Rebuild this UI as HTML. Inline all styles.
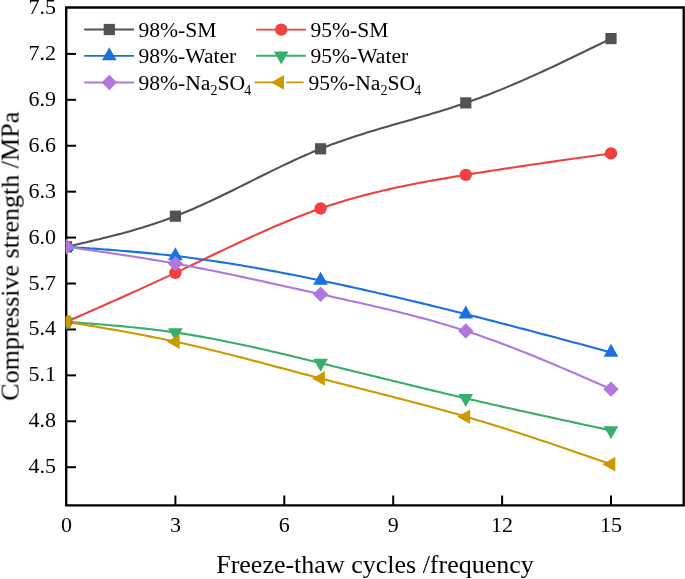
<!DOCTYPE html>
<html><head><meta charset="utf-8"><style>
html,body{margin:0;padding:0;background:#fff;}
svg{display:block;font-family:"Liberation Serif",serif;}
text{will-change:transform;}
</style></head><body>
<svg width="685" height="579" viewBox="0 0 685 579">
<defs><clipPath id="pc"><rect x="65.7" y="0" width="640" height="505"/></clipPath></defs>

<g stroke="#000" fill="none">
<path d="M66.2,7.5 H683.7 V505.4 H66.2 Z" stroke-width="2.35" stroke-linejoin="miter"/>
<path d="M66.2,467.20 H76" stroke-width="2"/>
<path d="M66.2,421.28 H76" stroke-width="2"/>
<path d="M66.2,375.36 H76" stroke-width="2"/>
<path d="M66.2,329.44 H76" stroke-width="2"/>
<path d="M66.2,283.52 H76" stroke-width="2"/>
<path d="M66.2,237.59 H76" stroke-width="2"/>
<path d="M66.2,191.67 H76" stroke-width="2"/>
<path d="M66.2,145.75 H76" stroke-width="2"/>
<path d="M66.2,99.83 H76" stroke-width="2"/>
<path d="M66.2,53.91 H76" stroke-width="2"/>
<path d="M175.40,505.5 V495.5" stroke-width="2"/>
<path d="M284.30,505.5 V495.5" stroke-width="2"/>
<path d="M393.20,505.5 V495.5" stroke-width="2"/>
<path d="M502.10,505.5 V495.5" stroke-width="2"/>
<path d="M611.00,505.5 V495.5" stroke-width="2"/>
</g>
<g clip-path="url(#pc)" fill="none" stroke-width="2.1" stroke-linejoin="round">
<path d="M66.50,246.78 L69.22,246.16 L71.94,245.54 L74.67,244.92 L77.39,244.29 L80.11,243.67 L82.84,243.04 L85.56,242.41 L88.28,241.77 L91.00,241.13 L93.72,240.49 L96.45,239.84 L99.17,239.18 L101.89,238.52 L104.62,237.85 L107.34,237.18 L110.06,236.49 L112.78,235.80 L115.50,235.09 L118.23,234.38 L120.95,233.66 L123.67,232.92 L126.39,232.18 L129.12,231.42 L131.84,230.65 L134.56,229.86 L137.28,229.07 L140.01,228.25 L142.73,227.43 L145.45,226.59 L148.18,225.73 L150.90,224.86 L153.62,223.97 L156.34,223.06 L159.06,222.13 L161.79,221.19 L164.51,220.22 L167.23,219.24 L169.95,218.24 L172.68,217.21 L175.40,216.17 L179.03,214.74 L182.66,213.27 L186.29,211.77 L189.92,210.24 L193.55,208.68 L197.18,207.08 L200.81,205.46 L204.44,203.81 L208.07,202.14 L211.70,200.45 L215.33,198.74 L218.96,197.01 L222.59,195.26 L226.22,193.50 L229.85,191.73 L233.48,189.94 L237.11,188.15 L240.74,186.35 L244.37,184.54 L248.00,182.73 L251.63,180.93 L255.26,179.12 L258.89,177.31 L262.52,175.51 L266.15,173.71 L269.78,171.93 L273.41,170.15 L277.04,168.38 L280.67,166.63 L284.30,164.90 L287.93,163.18 L291.56,161.48 L295.19,159.80 L298.82,158.15 L302.45,156.52 L306.08,154.92 L309.71,153.34 L313.34,151.80 L316.97,150.29 L320.60,148.81 L324.23,147.37 L327.86,145.97 L331.49,144.60 L335.12,143.26 L338.75,141.95 L342.38,140.67 L346.01,139.41 L349.64,138.18 L353.27,136.98 L356.90,135.80 L360.53,134.63 L364.16,133.49 L367.79,132.37 L371.42,131.26 L375.05,130.16 L378.68,129.08 L382.31,128.01 L385.94,126.95 L389.57,125.89 L393.20,124.85 L396.83,123.81 L400.46,122.77 L404.09,121.73 L407.72,120.70 L411.35,119.66 L414.98,118.62 L418.61,117.58 L422.24,116.53 L425.87,115.47 L429.50,114.40 L433.13,113.33 L436.76,112.24 L440.39,111.13 L444.02,110.01 L447.65,108.88 L451.28,107.73 L454.91,106.55 L458.54,105.36 L462.17,104.14 L465.80,102.89 L469.43,101.62 L473.06,100.33 L476.69,99.01 L480.32,97.66 L483.95,96.30 L487.58,94.91 L491.21,93.49 L494.84,92.06 L498.47,90.60 L502.10,89.12 L505.73,87.63 L509.36,86.11 L512.99,84.58 L516.62,83.03 L520.25,81.46 L523.88,79.87 L527.51,78.27 L531.14,76.66 L534.77,75.02 L538.40,73.38 L542.03,71.72 L545.66,70.05 L549.29,68.37 L552.92,66.68 L556.55,64.97 L560.18,63.26 L563.81,61.54 L567.44,59.81 L571.07,58.07 L574.70,56.32 L578.33,54.57 L581.96,52.81 L585.59,51.05 L589.22,49.28 L592.85,47.50 L596.48,45.73 L600.11,43.95 L603.74,42.17 L607.37,40.39 L611.00,38.60" stroke="#525252"/>
<path d="M66.50,321.78 L69.22,320.59 L71.94,319.39 L74.67,318.19 L77.39,316.99 L80.11,315.80 L82.84,314.60 L85.56,313.40 L88.28,312.20 L91.00,311.00 L93.72,309.80 L96.45,308.59 L99.17,307.39 L101.89,306.18 L104.62,304.98 L107.34,303.77 L110.06,302.56 L112.78,301.35 L115.50,300.14 L118.23,298.92 L120.95,297.71 L123.67,296.49 L126.39,295.27 L129.12,294.04 L131.84,292.82 L134.56,291.59 L137.28,290.36 L140.01,289.12 L142.73,287.89 L145.45,286.65 L148.18,285.41 L150.90,284.16 L153.62,282.91 L156.34,281.66 L159.06,280.41 L161.79,279.15 L164.51,277.89 L167.23,276.62 L169.95,275.35 L172.68,274.08 L175.40,272.80 L179.03,271.09 L182.66,269.38 L186.29,267.65 L189.92,265.93 L193.55,264.20 L197.18,262.47 L200.81,260.73 L204.44,259.00 L208.07,257.26 L211.70,255.53 L215.33,253.79 L218.96,252.06 L222.59,250.34 L226.22,248.62 L229.85,246.90 L233.48,245.19 L237.11,243.49 L240.74,241.80 L244.37,240.11 L248.00,238.44 L251.63,236.78 L255.26,235.13 L258.89,233.49 L262.52,231.86 L266.15,230.25 L269.78,228.66 L273.41,227.08 L277.04,225.52 L280.67,223.98 L284.30,222.46 L287.93,220.96 L291.56,219.48 L295.19,218.02 L298.82,216.59 L302.45,215.17 L306.08,213.79 L309.71,212.43 L313.34,211.09 L316.97,209.79 L320.60,208.51 L324.23,207.26 L327.86,206.04 L331.49,204.85 L335.12,203.69 L338.75,202.55 L342.38,201.44 L346.01,200.36 L349.64,199.30 L353.27,198.27 L356.90,197.25 L360.53,196.27 L364.16,195.30 L367.79,194.36 L371.42,193.44 L375.05,192.53 L378.68,191.65 L382.31,190.79 L385.94,189.95 L389.57,189.12 L393.20,188.31 L396.83,187.52 L400.46,186.75 L404.09,185.99 L407.72,185.24 L411.35,184.51 L414.98,183.80 L418.61,183.09 L422.24,182.40 L425.87,181.72 L429.50,181.05 L433.13,180.39 L436.76,179.75 L440.39,179.11 L444.02,178.48 L447.65,177.85 L451.28,177.24 L454.91,176.63 L458.54,176.03 L462.17,175.43 L465.80,174.84 L469.43,174.25 L473.06,173.66 L476.69,173.08 L480.32,172.51 L483.95,171.93 L487.58,171.36 L491.21,170.80 L494.84,170.24 L498.47,169.68 L502.10,169.12 L505.73,168.57 L509.36,168.02 L512.99,167.47 L516.62,166.93 L520.25,166.38 L523.88,165.84 L527.51,165.31 L531.14,164.77 L534.77,164.24 L538.40,163.71 L542.03,163.18 L545.66,162.66 L549.29,162.13 L552.92,161.61 L556.55,161.09 L560.18,160.57 L563.81,160.05 L567.44,159.54 L571.07,159.02 L574.70,158.51 L578.33,157.99 L581.96,157.48 L585.59,156.97 L589.22,156.46 L592.85,155.95 L596.48,155.44 L600.11,154.93 L603.74,154.42 L607.37,153.91 L611.00,153.41" stroke="#f04040"/>
<path d="M66.50,246.78 L69.22,246.96 L71.94,247.15 L74.67,247.34 L77.39,247.52 L80.11,247.71 L82.84,247.90 L85.56,248.09 L88.28,248.28 L91.00,248.47 L93.72,248.66 L96.45,248.86 L99.17,249.05 L101.89,249.25 L104.62,249.45 L107.34,249.66 L110.06,249.86 L112.78,250.07 L115.50,250.28 L118.23,250.50 L120.95,250.71 L123.67,250.93 L126.39,251.16 L129.12,251.38 L131.84,251.61 L134.56,251.85 L137.28,252.09 L140.01,252.33 L142.73,252.58 L145.45,252.83 L148.18,253.09 L150.90,253.35 L153.62,253.62 L156.34,253.89 L159.06,254.17 L161.79,254.45 L164.51,254.74 L167.23,255.04 L169.95,255.34 L172.68,255.65 L175.40,255.96 L179.03,256.39 L182.66,256.83 L186.29,257.29 L189.92,257.75 L193.55,258.22 L197.18,258.71 L200.81,259.20 L204.44,259.71 L208.07,260.23 L211.70,260.75 L215.33,261.29 L218.96,261.84 L222.59,262.39 L226.22,262.96 L229.85,263.54 L233.48,264.12 L237.11,264.71 L240.74,265.32 L244.37,265.93 L248.00,266.55 L251.63,267.17 L255.26,267.81 L258.89,268.45 L262.52,269.11 L266.15,269.76 L269.78,270.43 L273.41,271.11 L277.04,271.79 L280.67,272.47 L284.30,273.17 L287.93,273.87 L291.56,274.58 L295.19,275.29 L298.82,276.01 L302.45,276.74 L306.08,277.47 L309.71,278.21 L313.34,278.95 L316.97,279.70 L320.60,280.45 L324.23,281.21 L327.86,281.98 L331.49,282.74 L335.12,283.52 L338.75,284.29 L342.38,285.08 L346.01,285.86 L349.64,286.65 L353.27,287.45 L356.90,288.25 L360.53,289.06 L364.16,289.87 L367.79,290.68 L371.42,291.50 L375.05,292.32 L378.68,293.15 L382.31,293.98 L385.94,294.81 L389.57,295.65 L393.20,296.49 L396.83,297.34 L400.46,298.19 L404.09,299.05 L407.72,299.90 L411.35,300.77 L414.98,301.63 L418.61,302.50 L422.24,303.38 L425.87,304.25 L429.50,305.13 L433.13,306.02 L436.76,306.91 L440.39,307.80 L444.02,308.69 L447.65,309.59 L451.28,310.49 L454.91,311.40 L458.54,312.30 L462.17,313.22 L465.80,314.13 L469.43,315.05 L473.06,315.97 L476.69,316.89 L480.32,317.82 L483.95,318.75 L487.58,319.68 L491.21,320.61 L494.84,321.55 L498.47,322.49 L502.10,323.43 L505.73,324.37 L509.36,325.32 L512.99,326.27 L516.62,327.22 L520.25,328.17 L523.88,329.12 L527.51,330.08 L531.14,331.04 L534.77,331.99 L538.40,332.96 L542.03,333.92 L545.66,334.88 L549.29,335.85 L552.92,336.81 L556.55,337.78 L560.18,338.75 L563.81,339.72 L567.44,340.69 L571.07,341.67 L574.70,342.64 L578.33,343.61 L581.96,344.59 L585.59,345.56 L589.22,346.54 L592.85,347.51 L596.48,348.49 L600.11,349.47 L603.74,350.44 L607.37,351.42 L611.00,352.40" stroke="#1a70de"/>
<path d="M66.50,321.78 L69.22,321.99 L71.94,322.19 L74.67,322.39 L77.39,322.60 L80.11,322.80 L82.84,323.01 L85.56,323.22 L88.28,323.43 L91.00,323.64 L93.72,323.85 L96.45,324.07 L99.17,324.29 L101.89,324.51 L104.62,324.74 L107.34,324.97 L110.06,325.20 L112.78,325.43 L115.50,325.68 L118.23,325.92 L120.95,326.17 L123.67,326.42 L126.39,326.68 L129.12,326.95 L131.84,327.22 L134.56,327.49 L137.28,327.78 L140.01,328.06 L142.73,328.36 L145.45,328.66 L148.18,328.97 L150.90,329.29 L153.62,329.61 L156.34,329.94 L159.06,330.28 L161.79,330.63 L164.51,330.98 L167.23,331.35 L169.95,331.72 L172.68,332.11 L175.40,332.50 L179.03,333.04 L182.66,333.59 L186.29,334.16 L189.92,334.75 L193.55,335.36 L197.18,335.97 L200.81,336.61 L204.44,337.26 L208.07,337.92 L211.70,338.59 L215.33,339.28 L218.96,339.98 L222.59,340.70 L226.22,341.42 L229.85,342.16 L233.48,342.91 L237.11,343.67 L240.74,344.44 L244.37,345.21 L248.00,346.00 L251.63,346.80 L255.26,347.61 L258.89,348.42 L262.52,349.24 L266.15,350.07 L269.78,350.91 L273.41,351.75 L277.04,352.60 L280.67,353.45 L284.30,354.31 L287.93,355.18 L291.56,356.05 L295.19,356.92 L298.82,357.80 L302.45,358.68 L306.08,359.56 L309.71,360.45 L313.34,361.33 L316.97,362.22 L320.60,363.11 L324.23,364.00 L327.86,364.89 L331.49,365.79 L335.12,366.68 L338.75,367.57 L342.38,368.47 L346.01,369.36 L349.64,370.25 L353.27,371.15 L356.90,372.04 L360.53,372.93 L364.16,373.83 L367.79,374.72 L371.42,375.61 L375.05,376.50 L378.68,377.39 L382.31,378.28 L385.94,379.17 L389.57,380.06 L393.20,380.95 L396.83,381.83 L400.46,382.72 L404.09,383.60 L407.72,384.48 L411.35,385.36 L414.98,386.24 L418.61,387.12 L422.24,387.99 L425.87,388.87 L429.50,389.74 L433.13,390.61 L436.76,391.47 L440.39,392.34 L444.02,393.20 L447.65,394.06 L451.28,394.92 L454.91,395.77 L458.54,396.62 L462.17,397.47 L465.80,398.32 L469.43,399.16 L473.06,400.00 L476.69,400.84 L480.32,401.67 L483.95,402.50 L487.58,403.33 L491.21,404.16 L494.84,404.98 L498.47,405.80 L502.10,406.62 L505.73,407.44 L509.36,408.25 L512.99,409.07 L516.62,409.88 L520.25,410.68 L523.88,411.49 L527.51,412.29 L531.14,413.10 L534.77,413.90 L538.40,414.70 L542.03,415.49 L545.66,416.29 L549.29,417.09 L552.92,417.88 L556.55,418.67 L560.18,419.46 L563.81,420.25 L567.44,421.04 L571.07,421.83 L574.70,422.62 L578.33,423.40 L581.96,424.19 L585.59,424.98 L589.22,425.76 L592.85,426.55 L596.48,427.33 L600.11,428.11 L603.74,428.90 L607.37,429.68 L611.00,430.46" stroke="#38ae6c"/>
<path d="M66.50,246.78 L69.22,247.17 L71.94,247.55 L74.67,247.94 L77.39,248.33 L80.11,248.71 L82.84,249.10 L85.56,249.49 L88.28,249.88 L91.00,250.27 L93.72,250.66 L96.45,251.06 L99.17,251.45 L101.89,251.85 L104.62,252.25 L107.34,252.65 L110.06,253.05 L112.78,253.45 L115.50,253.86 L118.23,254.27 L120.95,254.68 L123.67,255.09 L126.39,255.51 L129.12,255.93 L131.84,256.35 L134.56,256.78 L137.28,257.20 L140.01,257.64 L142.73,258.07 L145.45,258.51 L148.18,258.95 L150.90,259.40 L153.62,259.85 L156.34,260.31 L159.06,260.76 L161.79,261.23 L164.51,261.70 L167.23,262.17 L169.95,262.65 L172.68,263.13 L175.40,263.62 L179.03,264.28 L182.66,264.94 L186.29,265.62 L189.92,266.30 L193.55,266.99 L197.18,267.69 L200.81,268.40 L204.44,269.12 L208.07,269.84 L211.70,270.57 L215.33,271.30 L218.96,272.05 L222.59,272.79 L226.22,273.55 L229.85,274.31 L233.48,275.07 L237.11,275.84 L240.74,276.61 L244.37,277.39 L248.00,278.17 L251.63,278.96 L255.26,279.74 L258.89,280.54 L262.52,281.33 L266.15,282.13 L269.78,282.93 L273.41,283.73 L277.04,284.54 L280.67,285.34 L284.30,286.15 L287.93,286.96 L291.56,287.77 L295.19,288.58 L298.82,289.38 L302.45,290.19 L306.08,291.00 L309.71,291.81 L313.34,292.62 L316.97,293.43 L320.60,294.23 L324.23,295.03 L327.86,295.84 L331.49,296.64 L335.12,297.44 L338.75,298.24 L342.38,299.05 L346.01,299.85 L349.64,300.66 L353.27,301.47 L356.90,302.28 L360.53,303.10 L364.16,303.92 L367.79,304.75 L371.42,305.58 L375.05,306.42 L378.68,307.26 L382.31,308.11 L385.94,308.97 L389.57,309.84 L393.20,310.72 L396.83,311.60 L400.46,312.50 L404.09,313.41 L407.72,314.32 L411.35,315.25 L414.98,316.20 L418.61,317.15 L422.24,318.12 L425.87,319.10 L429.50,320.09 L433.13,321.11 L436.76,322.13 L440.39,323.17 L444.02,324.23 L447.65,325.31 L451.28,326.40 L454.91,327.52 L458.54,328.65 L462.17,329.80 L465.80,330.97 L469.43,332.16 L473.06,333.37 L476.69,334.60 L480.32,335.85 L483.95,337.12 L487.58,338.40 L491.21,339.71 L494.84,341.03 L498.47,342.36 L502.10,343.71 L505.73,345.08 L509.36,346.46 L512.99,347.86 L516.62,349.27 L520.25,350.70 L523.88,352.13 L527.51,353.58 L531.14,355.04 L534.77,356.52 L538.40,358.00 L542.03,359.49 L545.66,361.00 L549.29,362.51 L552.92,364.03 L556.55,365.56 L560.18,367.10 L563.81,368.64 L567.44,370.19 L571.07,371.75 L574.70,373.31 L578.33,374.88 L581.96,376.45 L585.59,378.03 L589.22,379.61 L592.85,381.19 L596.48,382.78 L600.11,384.36 L603.74,385.95 L607.37,387.54 L611.00,389.13" stroke="#b077de"/>
<path d="M66.50,321.78 L69.22,322.24 L71.94,322.69 L74.67,323.14 L77.39,323.59 L80.11,324.05 L82.84,324.50 L85.56,324.96 L88.28,325.42 L91.00,325.87 L93.72,326.33 L96.45,326.80 L99.17,327.26 L101.89,327.72 L104.62,328.19 L107.34,328.66 L110.06,329.13 L112.78,329.61 L115.50,330.09 L118.23,330.57 L120.95,331.05 L123.67,331.54 L126.39,332.03 L129.12,332.53 L131.84,333.03 L134.56,333.53 L137.28,334.04 L140.01,334.55 L142.73,335.07 L145.45,335.59 L148.18,336.11 L150.90,336.64 L153.62,337.18 L156.34,337.72 L159.06,338.27 L161.79,338.82 L164.51,339.38 L167.23,339.95 L169.95,340.52 L172.68,341.10 L175.40,341.68 L179.03,342.47 L182.66,343.27 L186.29,344.09 L189.92,344.91 L193.55,345.75 L197.18,346.59 L200.81,347.44 L204.44,348.31 L208.07,349.18 L211.70,350.06 L215.33,350.95 L218.96,351.84 L222.59,352.75 L226.22,353.66 L229.85,354.58 L233.48,355.50 L237.11,356.43 L240.74,357.36 L244.37,358.30 L248.00,359.24 L251.63,360.19 L255.26,361.14 L258.89,362.09 L262.52,363.05 L266.15,364.01 L269.78,364.97 L273.41,365.93 L277.04,366.90 L280.67,367.86 L284.30,368.83 L287.93,369.79 L291.56,370.76 L295.19,371.72 L298.82,372.69 L302.45,373.65 L306.08,374.61 L309.71,375.57 L313.34,376.52 L316.97,377.47 L320.60,378.42 L324.23,379.36 L327.86,380.30 L331.49,381.24 L335.12,382.17 L338.75,383.11 L342.38,384.03 L346.01,384.96 L349.64,385.89 L353.27,386.81 L356.90,387.73 L360.53,388.66 L364.16,389.58 L367.79,390.50 L371.42,391.43 L375.05,392.35 L378.68,393.27 L382.31,394.20 L385.94,395.13 L389.57,396.06 L393.20,396.99 L396.83,397.93 L400.46,398.87 L404.09,399.81 L407.72,400.75 L411.35,401.70 L414.98,402.66 L418.61,403.62 L422.24,404.58 L425.87,405.55 L429.50,406.53 L433.13,407.51 L436.76,408.50 L440.39,409.50 L444.02,410.50 L447.65,411.51 L451.28,412.53 L454.91,413.55 L458.54,414.59 L462.17,415.63 L465.80,416.69 L469.43,417.75 L473.06,418.82 L476.69,419.90 L480.32,420.99 L483.95,422.09 L487.58,423.20 L491.21,424.32 L494.84,425.44 L498.47,426.57 L502.10,427.71 L505.73,428.86 L509.36,430.01 L512.99,431.17 L516.62,432.33 L520.25,433.51 L523.88,434.68 L527.51,435.87 L531.14,437.06 L534.77,438.25 L538.40,439.45 L542.03,440.66 L545.66,441.87 L549.29,443.08 L552.92,444.30 L556.55,445.52 L560.18,446.74 L563.81,447.97 L567.44,449.20 L571.07,450.44 L574.70,451.68 L578.33,452.91 L581.96,454.16 L585.59,455.40 L589.22,456.65 L592.85,457.89 L596.48,459.14 L600.11,460.39 L603.74,461.64 L607.37,462.89 L611.00,464.14" stroke="#cc9900"/>
</g>
<g clip-path="url(#pc)">
<rect x="60.90" y="241.18" width="11.20" height="11.20" fill="#525252"/>
<rect x="169.80" y="210.57" width="11.20" height="11.20" fill="#525252"/>
<rect x="315.00" y="143.21" width="11.20" height="11.20" fill="#525252"/>
<rect x="460.20" y="97.29" width="11.20" height="11.20" fill="#525252"/>
<rect x="605.40" y="33.00" width="11.20" height="11.20" fill="#525252"/>
<circle cx="66.50" cy="321.78" r="6.2" fill="#f04040"/>
<circle cx="175.40" cy="272.80" r="6.2" fill="#f04040"/>
<circle cx="320.60" cy="208.51" r="6.2" fill="#f04040"/>
<circle cx="465.80" cy="174.84" r="6.2" fill="#f04040"/>
<circle cx="611.00" cy="153.41" r="6.2" fill="#f04040"/>
<polygon points="66.50,238.18 73.80,251.08 59.20,251.08" fill="#1a70de"/>
<polygon points="175.40,247.36 182.70,260.26 168.10,260.26" fill="#1a70de"/>
<polygon points="320.60,271.85 327.90,284.75 313.30,284.75" fill="#1a70de"/>
<polygon points="465.80,305.53 473.10,318.43 458.50,318.43" fill="#1a70de"/>
<polygon points="611.00,343.80 618.30,356.70 603.70,356.70" fill="#1a70de"/>
<polygon points="66.50,330.38 73.80,317.48 59.20,317.48" fill="#38ae6c"/>
<polygon points="175.40,341.10 182.70,328.20 168.10,328.20" fill="#38ae6c"/>
<polygon points="320.60,371.71 327.90,358.81 313.30,358.81" fill="#38ae6c"/>
<polygon points="465.80,406.92 473.10,394.02 458.50,394.02" fill="#38ae6c"/>
<polygon points="611.00,439.06 618.30,426.16 603.70,426.16" fill="#38ae6c"/>
<polygon points="66.50,239.08 74.20,246.78 66.50,254.48 58.80,246.78" fill="#b077de"/>
<polygon points="175.40,255.92 183.10,263.62 175.40,271.32 167.70,263.62" fill="#b077de"/>
<polygon points="320.60,286.53 328.30,294.23 320.60,301.93 312.90,294.23" fill="#b077de"/>
<polygon points="465.80,323.27 473.50,330.97 465.80,338.67 458.10,330.97" fill="#b077de"/>
<polygon points="611.00,381.43 618.70,389.13 611.00,396.83 603.30,389.13" fill="#b077de"/>
<polygon points="57.90,321.78 70.80,314.48 70.80,329.08" fill="#cc9900"/>
<polygon points="166.80,341.68 179.70,334.38 179.70,348.98" fill="#cc9900"/>
<polygon points="312.00,378.42 324.90,371.12 324.90,385.72" fill="#cc9900"/>
<polygon points="457.20,416.69 470.10,409.39 470.10,423.99" fill="#cc9900"/>
<polygon points="602.40,464.14 615.30,456.84 615.30,471.44" fill="#cc9900"/>
</g>
<g font-size="22" fill="#000">
<text x="56.1" y="473.20" text-anchor="end">4.5</text>
<text x="56.1" y="427.28" text-anchor="end">4.8</text>
<text x="56.1" y="381.36" text-anchor="end">5.1</text>
<text x="56.1" y="335.44" text-anchor="end">5.4</text>
<text x="56.1" y="289.52" text-anchor="end">5.7</text>
<text x="56.1" y="243.59" text-anchor="end">6.0</text>
<text x="56.1" y="197.67" text-anchor="end">6.3</text>
<text x="56.1" y="151.75" text-anchor="end">6.6</text>
<text x="56.1" y="105.83" text-anchor="end">6.9</text>
<text x="56.1" y="59.91" text-anchor="end">7.2</text>
<text x="56.1" y="13.99" text-anchor="end">7.5</text>
<text x="66.50" y="532.4" text-anchor="middle">0</text>
<text x="175.40" y="532.4" text-anchor="middle">3</text>
<text x="284.30" y="532.4" text-anchor="middle">6</text>
<text x="393.20" y="532.4" text-anchor="middle">9</text>
<text x="502.10" y="532.4" text-anchor="middle">12</text>
<text x="611.00" y="532.4" text-anchor="middle">15</text>
</g>
<text x="375" y="572.7" font-size="26" text-anchor="middle">Freeze-thaw cycles /frequency</text>
<text transform="translate(18.6,256.3) rotate(-90)" x="0" y="0" font-size="26" text-anchor="middle">Compressive strength /MPa</text>
<path d="M84.2,29.5 H134.0" stroke="#525252" stroke-width="1.9"/>
<rect x="103.70" y="23.90" width="11.20" height="11.20" fill="#525252"/>
<text x="138.5" y="36.90" font-size="21.6">98%-SM</text>
<path d="M256.2,29.6 H305.9" stroke="#f04040" stroke-width="1.9"/>
<circle cx="281.20" cy="29.60" r="6.2" fill="#f04040"/>
<text x="310.4" y="37.00" font-size="21.6">95%-SM</text>
<path d="M84.2,55.9 H134.0" stroke="#1a70de" stroke-width="1.9"/>
<polygon points="109.30,47.30 116.60,60.20 102.00,60.20" fill="#1a70de"/>
<text x="138.5" y="63.30" font-size="21.6">98%-Water</text>
<path d="M256.2,55.8 H305.9" stroke="#38ae6c" stroke-width="1.9"/>
<polygon points="281.20,64.40 288.50,51.50 273.90,51.50" fill="#38ae6c"/>
<text x="310.4" y="63.20" font-size="21.6">95%-Water</text>
<path d="M84.2,82.5 H134.0" stroke="#b077de" stroke-width="1.9"/>
<polygon points="109.30,74.80 117.00,82.50 109.30,90.20 101.60,82.50" fill="#b077de"/>
<text x="138.5" y="89.90" font-size="21.6">98%-Na<tspan font-size="14" dy="5.5">2</tspan><tspan dy="-5.5">SO</tspan><tspan font-size="14" dy="5.5" dx="-0.9">4</tspan></text>
<path d="M254.5,82.4 H283.7 M286.3,82.4 H303.7" stroke="#cc9900" stroke-width="1.9"/>
<polygon points="271.10,82.40 284.00,75.10 284.00,89.70" fill="#cc9900"/>
<text x="308.5" y="89.80" font-size="21.6">95%-Na<tspan font-size="14" dy="5.5">2</tspan><tspan dy="-5.5">SO</tspan><tspan font-size="14" dy="5.5" dx="-0.9">4</tspan></text>
</svg></body></html>
